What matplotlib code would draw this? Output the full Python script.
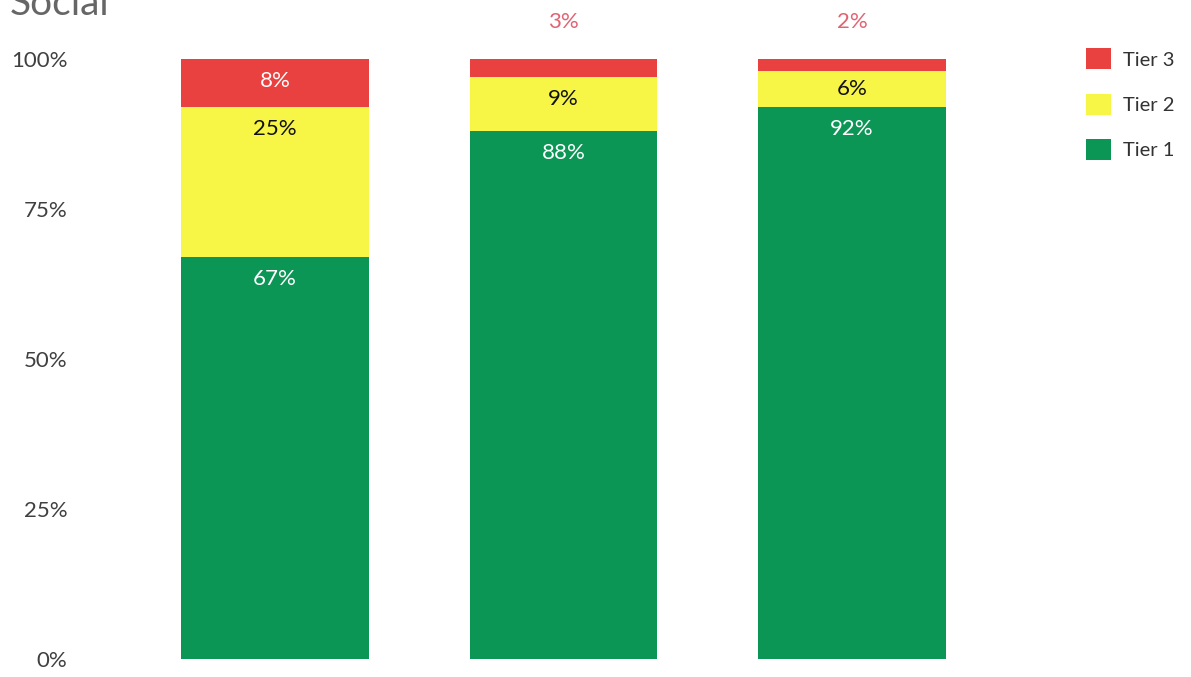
import matplotlib.pyplot as plt
from matplotlib.patches import Patch

plt.rcParams['font.family'] = ['Lato', 'DejaVu Sans']

# Data
groups = ["A", "B", "C"]
tier1 = [67, 88, 92]
tier2 = [25, 9, 6]
tier3 = [8, 3, 2]
tier_names = ["Tier 1", "Tier 2", "Tier 3"]
yticks = [0, 25, 50, 75, 100]

colors = {"Tier 1": "#0B9656", "Tier 2": "#F7F545", "Tier 3": "#E8413F"}
label_colors = {"Tier 1": "white", "Tier 2": "#111111", "Tier 3": "white"}

W, H = 1191, 677
fig = plt.figure(figsize=(W / 100, H / 100), dpi=100)
ax = fig.add_axes([130 / W, 18 / H, 870 / W, 600 / H])

x = list(range(len(groups)))
width = 0.65
series = [tier1, tier2, tier3]
bottoms = [0] * len(groups)
for name, vals in zip(tier_names, series):
    ax.bar(x, vals, width, bottom=bottoms, color=colors[name], edgecolor="none")
    for i, v in enumerate(vals):
        top = bottoms[i] + v
        if v >= 5:
            ax.text(i, top - min(3.7, v / 2), f"{v}%", ha="center", va="center",
                    fontsize=16, color=label_colors[name])
        else:
            ax.text(i, 106.2, f"{v}%", ha="center", va="center",
                    fontsize=16, color="#E06472", clip_on=False)
    bottoms = [b + v for b, v in zip(bottoms, vals)]

ax.set_xlim(-0.5026, 2.513)
ax.set_ylim(0, 100)
ax.set_xticks([])
ax.set_yticks(yticks)
ax.set_yticklabels([f"{t}%" for t in yticks], fontsize=16, color="#404040")
ax.tick_params(axis="y", length=0, pad=45)
for s in ax.spines.values():
    s.set_visible(False)

fig.text(10 / W, (H - 15) / H, "Social", fontsize=28, color="#666666",
         ha="left", va="baseline")

handles = [Patch(facecolor=colors[n], edgecolor="none", label=n) for n in reversed(tier_names)]
fig.legend(handles=handles, loc="upper left", bbox_to_anchor=(1068 / W, (H - 30) / H),
           frameon=False, fontsize=14.5, handlelength=1.25, handleheight=1.25,
           labelspacing=1.2, handletextpad=0.6, labelcolor="#333333")

fig.savefig("out.png", dpi=100)
